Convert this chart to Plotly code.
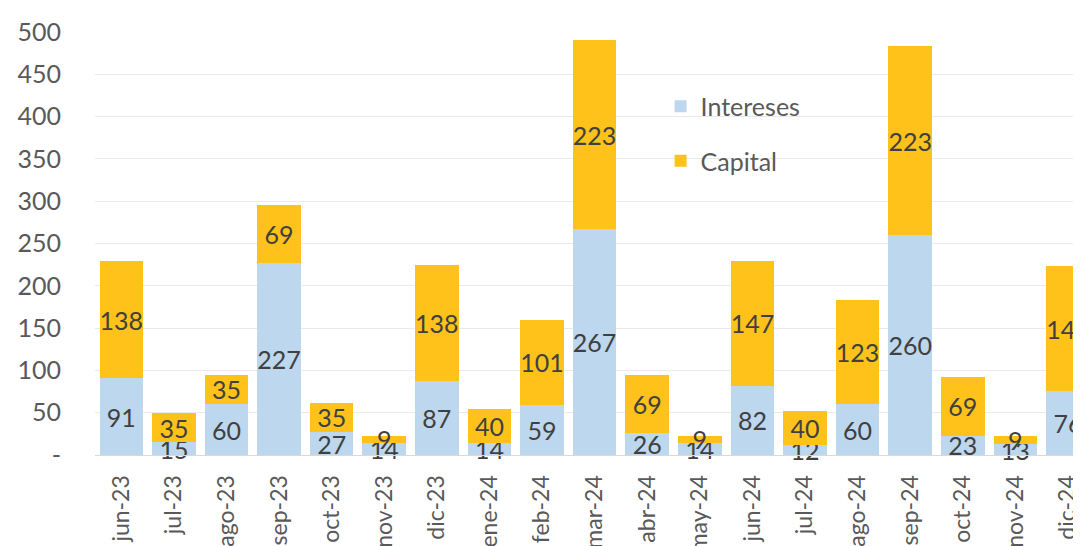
import plotly.graph_objects as go

months = ["jun-23", "jul-23", "ago-23", "sep-23", "oct-23", "nov-23", "dic-23",
          "ene-24", "feb-24", "mar-24", "abr-24", "may-24", "jun-24", "jul-24",
          "ago-24", "sep-24", "oct-24", "nov-24", "dic-24"]
intereses = [91, 15, 60, 227, 27, 14, 87, 14, 59, 267, 26, 14, 82, 12, 60, 260, 23, 13, 76]
capital = [138, 35, 35, 69, 35, 9, 138, 40, 101, 223, 69, 9, 147, 40, 123, 223, 69, 9, 147]
y_ticks = [0, 50, 100, 150, 200, 250, 300, 350, 400, 450, 500]
y_ticktext = ["-", "50", "100", "150", "200", "250", "300", "350", "400", "450", "500"]

FONT = "Lato"
fig = go.Figure()
fig.add_trace(go.Bar(
    x=months, y=intereses, name="Intereses", legendgroup="a",
    marker=dict(color="#BDD7EE", line=dict(width=0)),
    text=[str(v) for v in intereses], textposition="inside",
    insidetextanchor="middle", textangle=0, cliponaxis=False,
    textfont=dict(family=FONT, size=25, color="#404040"),
))
fig.add_trace(go.Bar(
    x=months, y=capital, name="Capital", legendgroup="b",
    marker=dict(color="#FFC21A", line=dict(width=0)),
    text=[str(v) for v in capital], textposition="inside",
    insidetextanchor="middle", textangle=0, cliponaxis=False,
    textfont=dict(family=FONT, size=25, color="#404040"),
))

fig.update_layout(
    width=1081, height=546,
    margin=dict(l=87, r=0, t=24, b=99, autoexpand=False),
    barmode="stack", bargap=0.172,
    plot_bgcolor="white", paper_bgcolor="white",
    font=dict(family=FONT, size=25, color="#595959"),
    uniformtext=dict(minsize=25, mode="show"),
    legend=dict(
        x=0.569, y=0.878, xanchor="left", yanchor="top",
        traceorder="grouped", tracegroupgap=19,
        font=dict(family=FONT, size=25, color="#595959"),
        bgcolor="rgba(0,0,0,0)",
    ),
    xaxis=dict(
        range=[-0.5, -0.5 + 994 / 52.59], automargin=False,
        tickangle=-90, showgrid=False,
        showline=True, linecolor="#D9D9D9", linewidth=1,
        ticklabelstandoff=10,
        tickfont=dict(family=FONT, size=23, color="#595959"),
    ),
    yaxis=dict(
        range=[0, 500], tickvals=y_ticks, ticktext=y_ticktext, automargin=False,
        showgrid=True, gridcolor="#EAEAEA", gridwidth=1,
        zeroline=False, ticklabelstandoff=33,
        tickfont=dict(family=FONT, size=25, color="#595959"),
    ),
)
fig.write_html("out.html")
